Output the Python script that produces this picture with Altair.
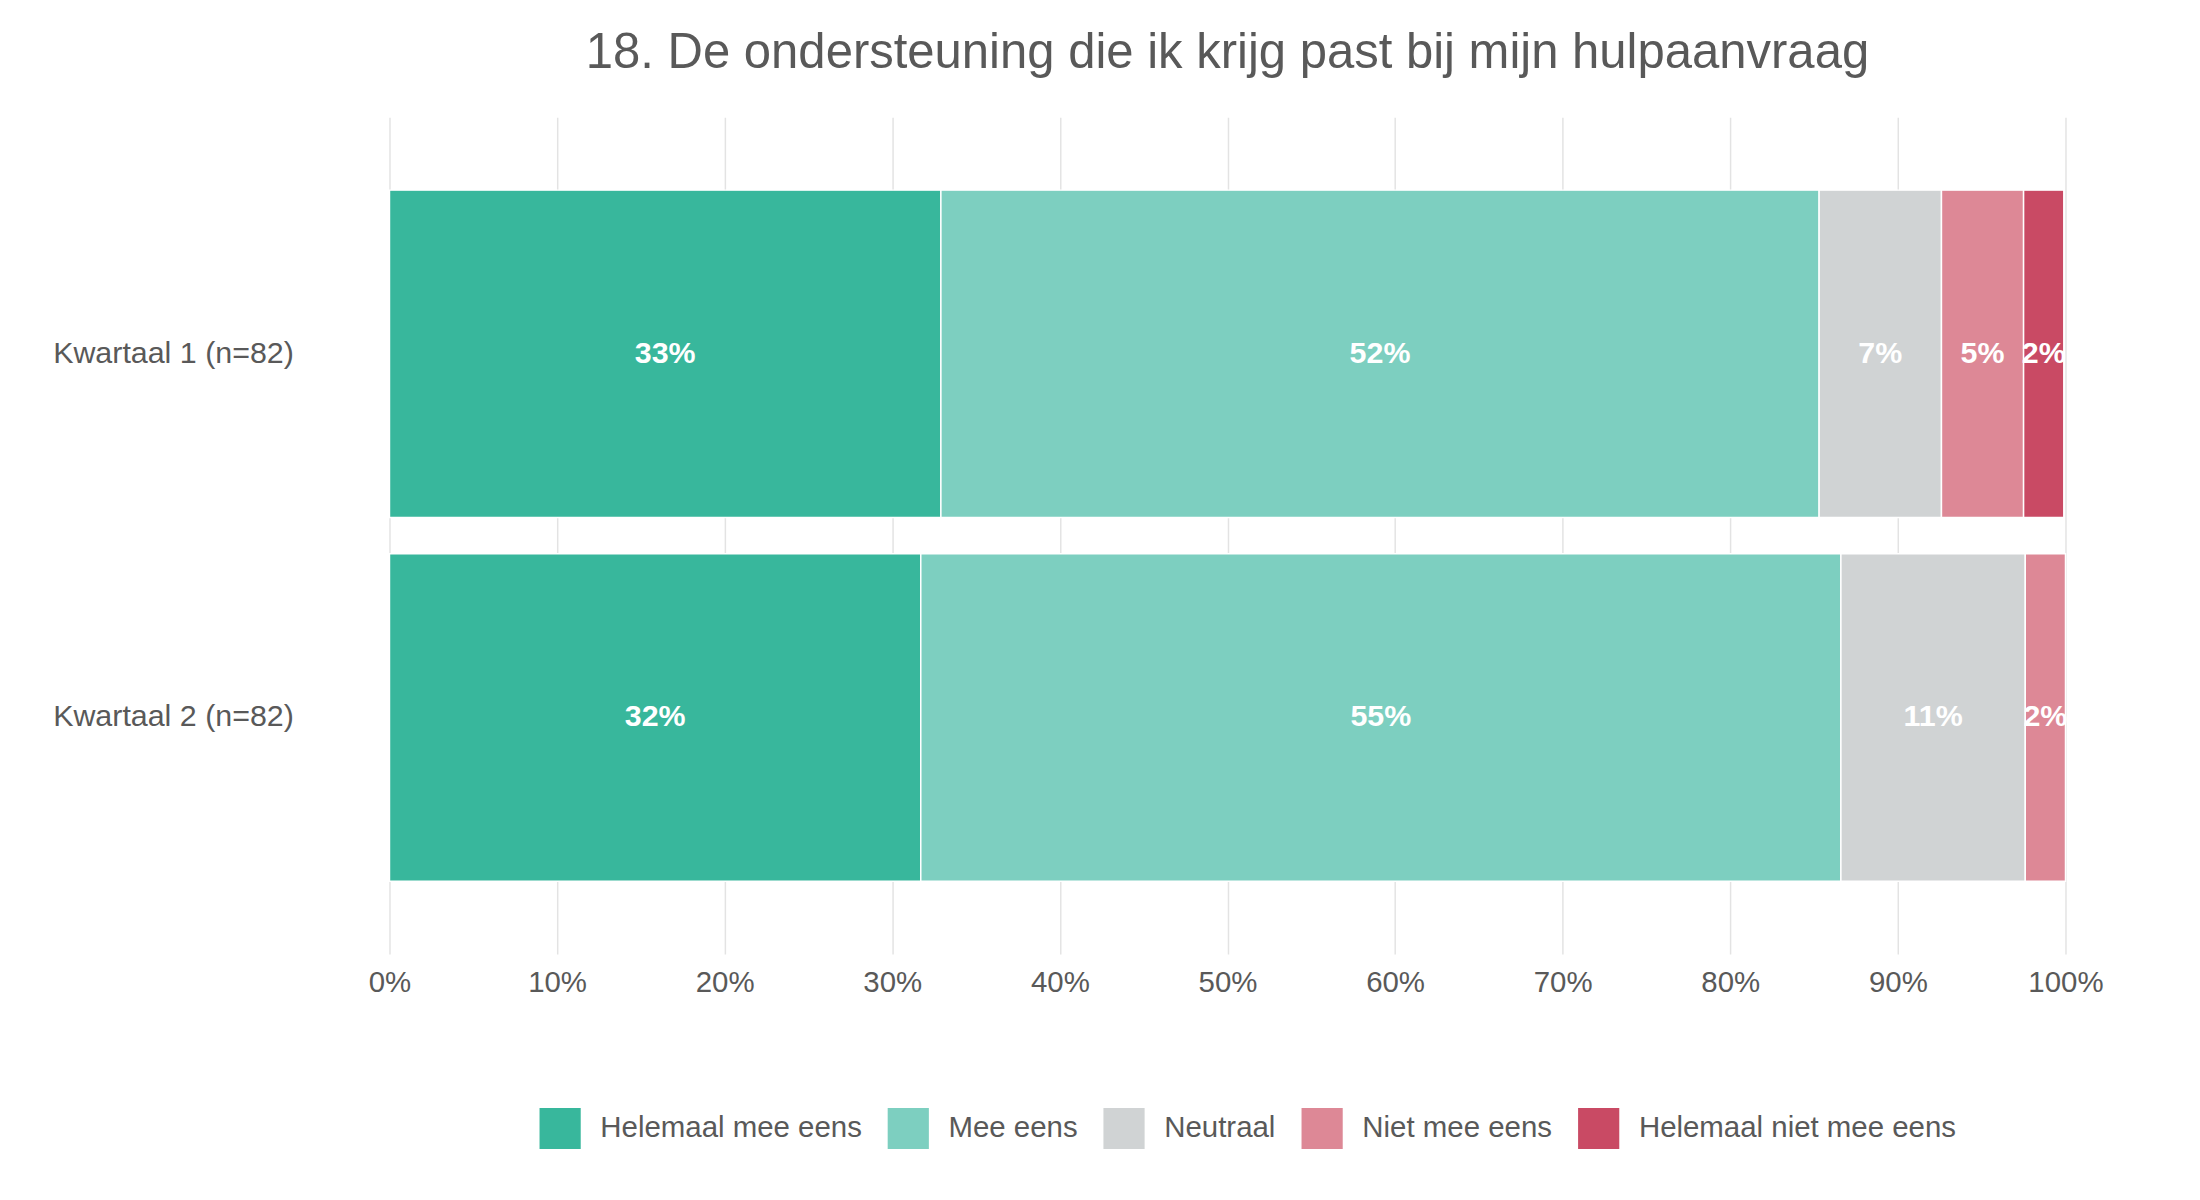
"Stacked percentage bar chart: support matches request for help"

import pandas as pd
import altair as alt

groups = ["Kwartaal 1 (n=82)", "Kwartaal 2 (n=82)"]
answers = ["Helemaal mee eens", "Mee eens", "Neutraal", "Niet mee eens", "Helemaal niet mee eens"]
colors = ["#38b79c", "#7dcfc0", "#d0d3d4", "#dd8896", "#c94a64"]
q1_values = [32.9, 52.4, 7.3, 4.9, 2.4]
q2_values = [31.7, 54.9, 11.0, 2.4, 0.0]
x_ticks = [0, 10, 20, 30, 40, 50, 60, 70, 80, 90, 100]

rows = []
for group, values in zip(groups, [q1_values, q2_values]):
    for i, (answer, value) in enumerate(zip(answers, values)):
        rows.append({"group": group, "answer": answer, "order": i, "value": value})
df = pd.DataFrame(rows)
df = df[df["value"] > 0]
df["label"] = df["value"].round().astype(int).astype(str) + "%"

font = "Liberation Sans"

base = alt.Chart(df).encode(
    y=alt.Y("group:N", sort=groups, title=None,
            scale=alt.Scale(paddingInner=0.1, paddingOuter=0.2),
            axis=alt.Axis(labelFontSize=31, labelColor="#595959", labelFont=font,
                          labelPadding=98, labelLimit=600, ticks=False, domain=False,
                          grid=False)),
)

bars = base.mark_bar(stroke="white", strokeWidth=1.5).encode(
    x=alt.X("value:Q", stack="zero", title=None,
            scale=alt.Scale(domain=[0, 100], nice=False),
            axis=alt.Axis(values=x_ticks, labelExpr="datum.value + '%'", labelFontSize=30,
                          labelColor="#595959", labelFont=font, domain=False, ticks=False,
                          labelFlush=False, labelPadding=14, gridColor="#e3e3e3",
                          gridWidth=1.5)),
    color=alt.Color("answer:N", sort=answers,
                    scale=alt.Scale(domain=answers, range=colors),
                    legend=alt.Legend(orient="none", legendX=153, legendY=1010,
                                      direction="horizontal", title=None,
                                      symbolType="square", symbolSize=1764, symbolStrokeWidth=0,
                                      labelFontSize=30, labelColor="#595959", labelFont=font,
                                      labelLimit=600, labelOffset=20, columnPadding=26)),
    order=alt.Order("order:Q"),
)

labels = base.mark_text(color="white", fontWeight="bold", fontSize=31, font=font).encode(
    x=alt.X("mid:Q"),
    text="label:N",
).transform_stack(
    stack="value", groupby=["group"], sort=[alt.SortField("order")], as_=["v0", "v1"]
).transform_calculate(mid="(datum.v0 + datum.v1) / 2")

chart = (bars + labels).properties(
    width=1709, height=853,
    title=alt.TitleParams("18. De ondersteuning die ik krijg past bij mijn hulpaanvraag",
                          fontSize=50, font=font, fontWeight="normal", color="#595959",
                          offset=40),
    padding={"left": 45, "top": 10, "right": 90, "bottom": 20},
).configure_view(stroke=None)

chart.save("out.html", embed_options={"renderer": "svg", "actions": False})
